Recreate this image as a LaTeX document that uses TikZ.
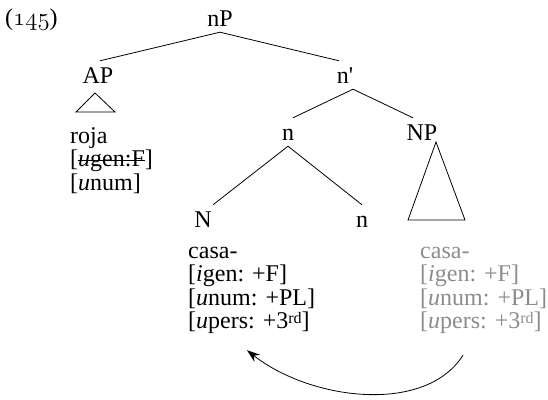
\documentclass[tikz,border=0pt]{standalone}
\usepackage{fontspec}
\setmainfont{Liberation Serif}
\usetikzlibrary{calc,arrows.meta}
\definecolor{ghostgray}{RGB}{140,140,140}
\newcommand{\ordsup}[1]{\raisebox{5.5pt}{\fontsize{16}{16}\selectfont #1}}
\begin{document}
\begin{tikzpicture}[x=1pt,y=-1pt,
  every node/.style={font=\fontsize{24}{23.5}\selectfont},
  cat/.style={inner xsep=0pt, inner ysep=6pt, text height=16pt, text depth=0pt, anchor=base},
  feat/.style={inner sep=0pt, anchor=base west, text height=15pt, text depth=4pt},
  ghost/.style={feat, text=ghostgray},
  edge/.style={line width=0.8pt}]
\useasboundingbox (0,0) rectangle (548,399);
% example number
\node[inner sep=0pt, anchor=base west, font=\fontsize{24}{24}\selectfont] (ex) at (5,25) {($\mathnormal{145}$)};
% categories
\node[cat] (nP) at (220,26) {nP};
\node[cat] (AP) at (98,83) {AP};
\node[cat] (n1) at (345,83) {n\textquotesingle};
\node[cat] (n2) at (288,140) {n};
\node[cat] (NP) at (422,140) {NP};
\node[cat] (N) at (203,227) {N};
\node[cat] (n3) at (362,227) {n};
% branches
\draw[edge] (nP.south) -- ([xshift=2pt]AP.north);
\draw[edge] (nP.south) -- ([xshift=-6pt]n1.north);
\draw[edge] ([xshift=8pt]n1.south) -- ([xshift=5pt]n2.north);
\draw[edge] ([xshift=8pt]n1.south) -- ([xshift=-9pt]NP.north);
\draw[edge] (n2.south) -- ([xshift=10pt]N.north);
\draw[edge] (n2.south) -- (n3.north);
% triangles
\draw[edge] (95,93) -- (76,112) -- (115,112) -- cycle;
\draw[edge] (436,142) -- (408,220) -- (465,220) -- cycle;
% AP features
\node[feat] (roja) at (70,143) {roja};
\node[feat] (agen) at (70,166.5) {[\textit{u}gen:F]};
\draw[line width=1pt] ($(agen.base west)+(8,-6.5)$) -- ($(agen.base east)+(-8,-6.5)$);
\node[feat] (anum) at (70,190) {[\textit{u}num]};
% N features
\node[feat] (lcasa) at (188,258) {casa-};
\node[feat] (lgen) at (188,281.5) {[\textit{i}gen: +F]};
\node[feat] (lnum) at (188,305) {[\textit{u}num: +PL]};
\node[feat] (lpers) at (188,328.5) {[\textit{u}pers: +3\ordsup{rd}]};
% NP copy features
\node[ghost] (rcasa) at (420,258) {casa-};
\node[ghost] (rgen) at (420,281.5) {[\textit{i}gen: +F]};
\node[ghost] (rnum) at (420,305) {[\textit{u}num: +PL]};
\node[ghost] (rpers) at (420,328.5) {[\textit{u}pers: +3\ordsup{rd}]};
% agreement arrow
\draw[edge, -{Stealth[length=13pt,width=9pt]}] ($(rpers.south west)+(43,22.5)$) .. controls (425,415) and (310,400) .. ($(lpers.south west)+(59,17.5)$);
\end{tikzpicture}
\end{document}
